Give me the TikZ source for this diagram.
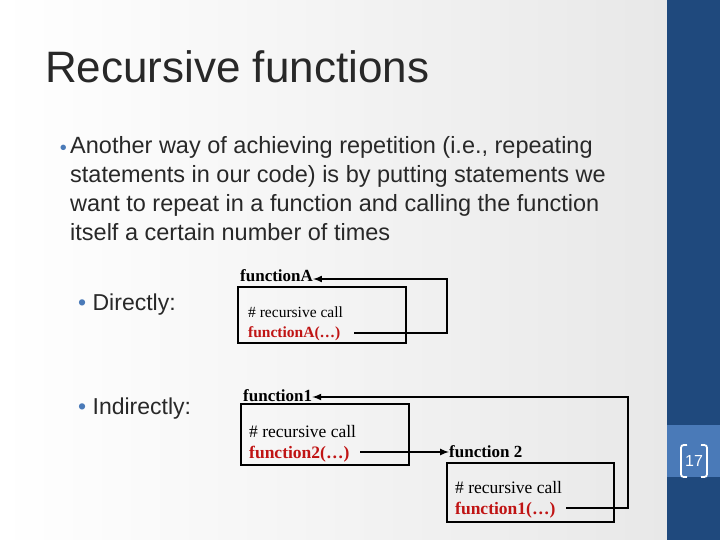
\documentclass[tikz,border=0pt]{standalone}
\usepackage{fontspec}
\setmainfont{Liberation Sans}
\newfontfamily\codefont{Liberation Serif}
\usetikzlibrary{arrows}

\definecolor{navy}{RGB}{31,73,125}
\definecolor{midblue}{RGB}{74,122,184}
\definecolor{codered}{RGB}{192,20,20}
\definecolor{bodygray}{RGB}{40,40,40}

\tikzset{
    codebox/.style={draw, line width=2pt},
    calltext/.style={anchor=base west, font=\codefont\fontsize{15.5}{17}\selectfont, inner sep=0pt},
    callred/.style={calltext, font=\codefont\bfseries\fontsize{15.5}{17}\selectfont, text=codered},
    fname/.style={anchor=base west, font=\codefont\bfseries\fontsize{17}{19}\selectfont, inner sep=0pt},
    back/.style={line width=2pt, ->, >=latex},
    bullet/.style={anchor=base west, font=\fontsize{23}{29}\selectfont, text=bodygray, inner sep=0pt}
}

\begin{document}
\begin{tikzpicture}[x=1pt, y=-1pt]
    % Slide background and side bar
    \useasboundingbox (0,0) rectangle (720,540);
    \shade[left color=white, right color=gray!18] (0,0) rectangle (667,540);
    \fill[navy] (667,0) rectangle (720,540);
    \fill[midblue] (667,425) rectangle (720,477);
    \node[text=white, font=\fontsize{16}{18}\selectfont] (num) at (694,461) {17};
    \draw[white, line width=1.8pt] (687,445) .. controls (681,445) .. (681,451) -- (681,471) .. controls (681,477) .. (687,477);
    \draw[white, line width=1.8pt] (701,445) .. controls (707,445) .. (707,451) -- (707,471) .. controls (707,477) .. (701,477);

    % Title and bullets
    \node[anchor=base west, font=\fontsize{44}{50}\selectfont, text=bodygray, inner sep=0pt] (title) at (45,83) {Recursive functions};
    \node[anchor=north west, font=\fontsize{23.5}{29}\selectfont, text=bodygray, inner sep=0pt, align=left] (intro) at (70,136)
        {Another way of achieving repetition (i.e., repeating\\statements in our code) is by putting statements we\\want to repeat in a function and calling the function\\itself a certain number of times};
    \node[anchor=base east, text=midblue, font=\fontsize{20}{24}\selectfont, inner sep=0pt] at (67,155) {\textbullet};
    \node[bullet] (direct) at (78,310) {\textcolor{midblue}{\textbullet}\ Directly:};
    \node[bullet] (indirect) at (78,414) {\textcolor{midblue}{\textbullet}\ Indirectly:};

    % Direct recursion
    \node[fname] (fA) at (240,281) {functionA};
    \draw[codebox] (238,287) rectangle (406,343);
    \node[calltext] (cA) at (248,317) {\# recursive call};
    \node[callred] (rA) at (248,337) {functionA(\dots)};
    \coordinate (tA) at (354,333);
    \draw[back] (tA) -- (447,333) -- (447,279) -- (fA.east |- 0,279);

    % Indirect recursion
    \node[fname] (f1) at (243,401) {function1};
    \draw[codebox] (241,404) rectangle (409,465);
    \node[calltext, font=\codefont\fontsize{17.5}{19}\selectfont] (c1) at (249,437) {\# recursive call};
    \node[callred, font=\codefont\bfseries\fontsize{17.5}{19}\selectfont] (r1) at (249,458) {function2(\dots)};
    \node[fname] (f2) at (449,457) {function 2};
    \draw[back] (360,452) -- (f2.west |- 0,452);
    \draw[codebox] (447,463) rectangle (614,522);
    \node[calltext, font=\codefont\fontsize{17.5}{19}\selectfont] (c2) at (455,493) {\# recursive call};
    \node[callred, font=\codefont\bfseries\fontsize{17.5}{19}\selectfont] (r2) at (455,514) {function1(\dots)};
    \coordinate (t2) at (566,508);
    \draw[back] (t2) -- (628,508) -- (628,397) -- (f1.east |- 0,397);
\end{tikzpicture}
\end{document}
